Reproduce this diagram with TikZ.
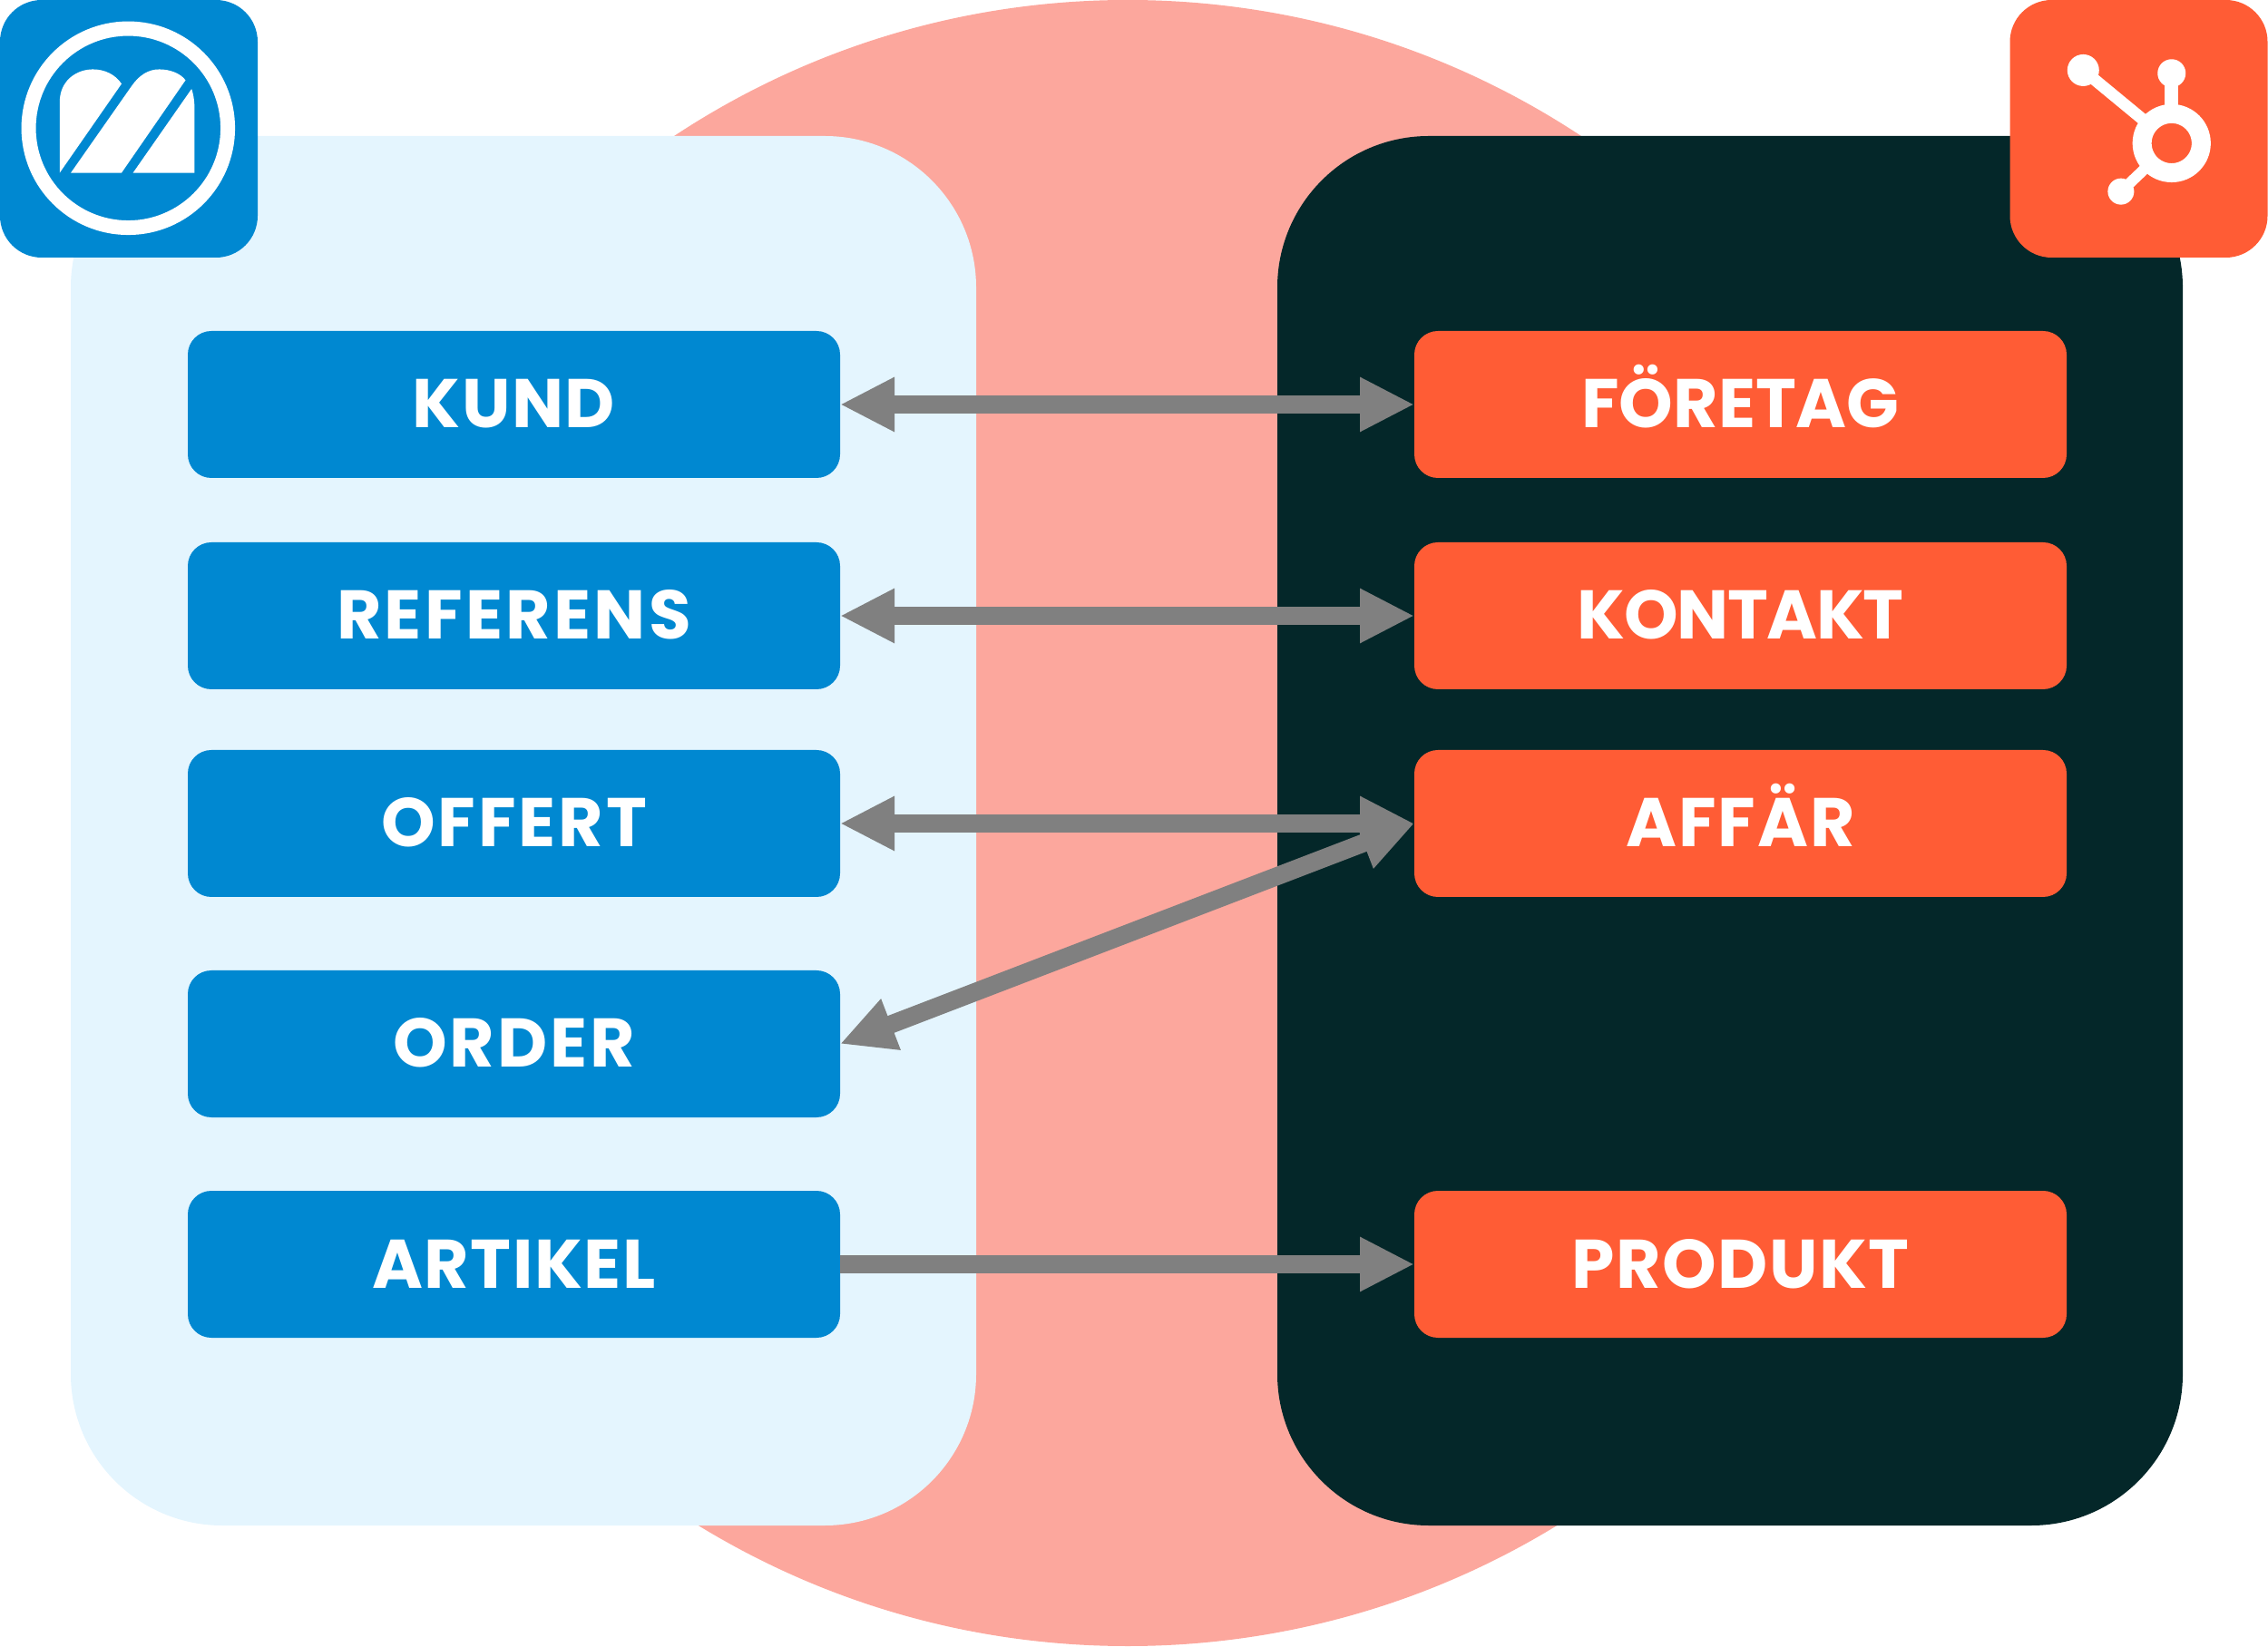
\documentclass[tikz,border=0pt]{standalone}
\usepackage{fontspec}
\setmainfont{Poppins}
\usetikzlibrary{arrows.meta, positioning, backgrounds}
\definecolor{limeblue}{HTML}{0088D1}
\definecolor{hubspot}{HTML}{FF5C35}
\definecolor{hubdark}{HTML}{042729}
\definecolor{paleblue}{HTML}{E4F5FE}
\definecolor{salmon}{HTML}{FCA79D}
\begin{document}
\begin{tikzpicture}[
    bluebox/.style={rectangle, rounded corners=0.26cm, fill=limeblue, text=white, minimum width=7.19cm, minimum height=1.62cm, inner sep=0pt, outer sep=0pt, text height=0.52cm, text depth=0pt, track=2},
    orangebox/.style={bluebox, fill=hubspot},
    track/.style={font=\fontsize{21.6}{24}\selectfont\bfseries\addfontfeature{LetterSpace=#1}},
    layer/.style={rectangle, rounded corners=1.67cm, minimum width=9.98cm, minimum height=15.32cm},
    iconbox/.style={rectangle, rounded corners=0.46cm, minimum width=2.84cm, minimum height=2.84cm, inner sep=0pt},
    arrow/.style={line width=0.2cm, draw=gray, -{Triangle[length=0.6cm, width=0.56cm]}},
    both/.style={arrow, {Triangle[length=0.6cm, width=0.56cm]}-{Triangle[length=0.6cm, width=0.56cm]}},
    dot/.style={circle, fill=white, inner sep=0pt}
]
\useasboundingbox (0,0) rectangle (25,18.15);

% Left column
\node[bluebox] at (5.665,13.69) (kund) {KUND};
\node[bluebox, track=4.4, below=0.71cm of kund] (referens) {REFERENS};
\node[bluebox, track=3.9, below=0.67cm of referens] (offert) {OFFERT};
\node[bluebox, track=3.9, below=0.81cm of offert] (order) {ORDER};
\node[bluebox, below=0.81cm of order] (artikel) {ARTIKEL};

% Right column
\node[orangebox, track=0, right=6.33cm of kund] (foretag) {FÖRETAG};
\node[orangebox, track=-1.8, right=6.33cm of referens] (kontakt) {KONTAKT};
\node[orangebox, track=2.5, right=6.33cm of offert] (affar) {AFFÄR};
\node[orangebox, right=6.33cm of artikel] (produkt) {PRODUKT};

% Arrows
\draw[both] (kund.east) -- (foretag.west);
\draw[both] (referens.east) -- (kontakt.west);
\draw[both] (offert.east) -- (affar.west);
\draw[both] (order.east) -- (affar.west);
\draw[arrow] (artikel.east) -- (produkt.west);

% Panels
\begin{scope}[on background layer]
    \node[circle, fill=salmon, minimum size=18.15cm, inner sep=0pt] at (12.43,9.075) (overlap) {};
    \node[layer, fill=paleblue] at (5.77,8.99) (limepanel) {};
    \node[layer, fill=hubdark] at (19.07,8.99) (hubpanel) {};
\end{scope}

% Left logo
\node[iconbox, fill=limeblue] at (1.42,16.73) (limelogo) {};
\begin{scope}[shift={(limelogo.north west)}, x=0.003333cm, y=-0.003333cm]
    \draw[white, line width=0.16cm] (427,427) circle[radius=330];
    \fill[white] (200,575) -- (200,340) .. controls (200,270) and (255,232) .. (310,232) .. controls (350,232) and (385,250) .. (405,280) -- cycle;
    \fill[white] (237,575) -- (440,285) .. controls (465,250) and (495,232) .. (530,232) .. controls (565,232) and (600,245) .. (617,268) -- (405,575) -- cycle;
    \fill[white] (443,575) -- (637,297) .. controls (645,320) and (647,345) .. (647,370) -- (647,575) -- cycle;
\end{scope}

% Right logo
\node[iconbox, fill=hubspot] at (23.575,16.73) (hublogo) {};
\begin{scope}[shift={(hublogo.north west)}, x=0.003333cm, y=-0.003333cm]
    \node[dot, minimum size=0.35cm] at (245,235) (spokea) {};
    \node[dot, minimum size=0.31cm] at (538,245) (spokeb) {};
    \node[dot, minimum size=0.29cm] at (370,637) (spokec) {};
    \coordinate (hub) at (538,477);
    \draw[white, line width=0.13cm] (spokea.center) -- (hub);
    \draw[white, line width=0.15cm] (spokeb.center) -- (hub);
    \draw[white, line width=0.12cm] (spokec.center) -- (hub);
    \fill[hubspot] (hub) circle[radius=70];
    \draw[white, line width=0.21cm] (hub) circle[radius=98];
\end{scope}
\end{tikzpicture}
\end{document}
